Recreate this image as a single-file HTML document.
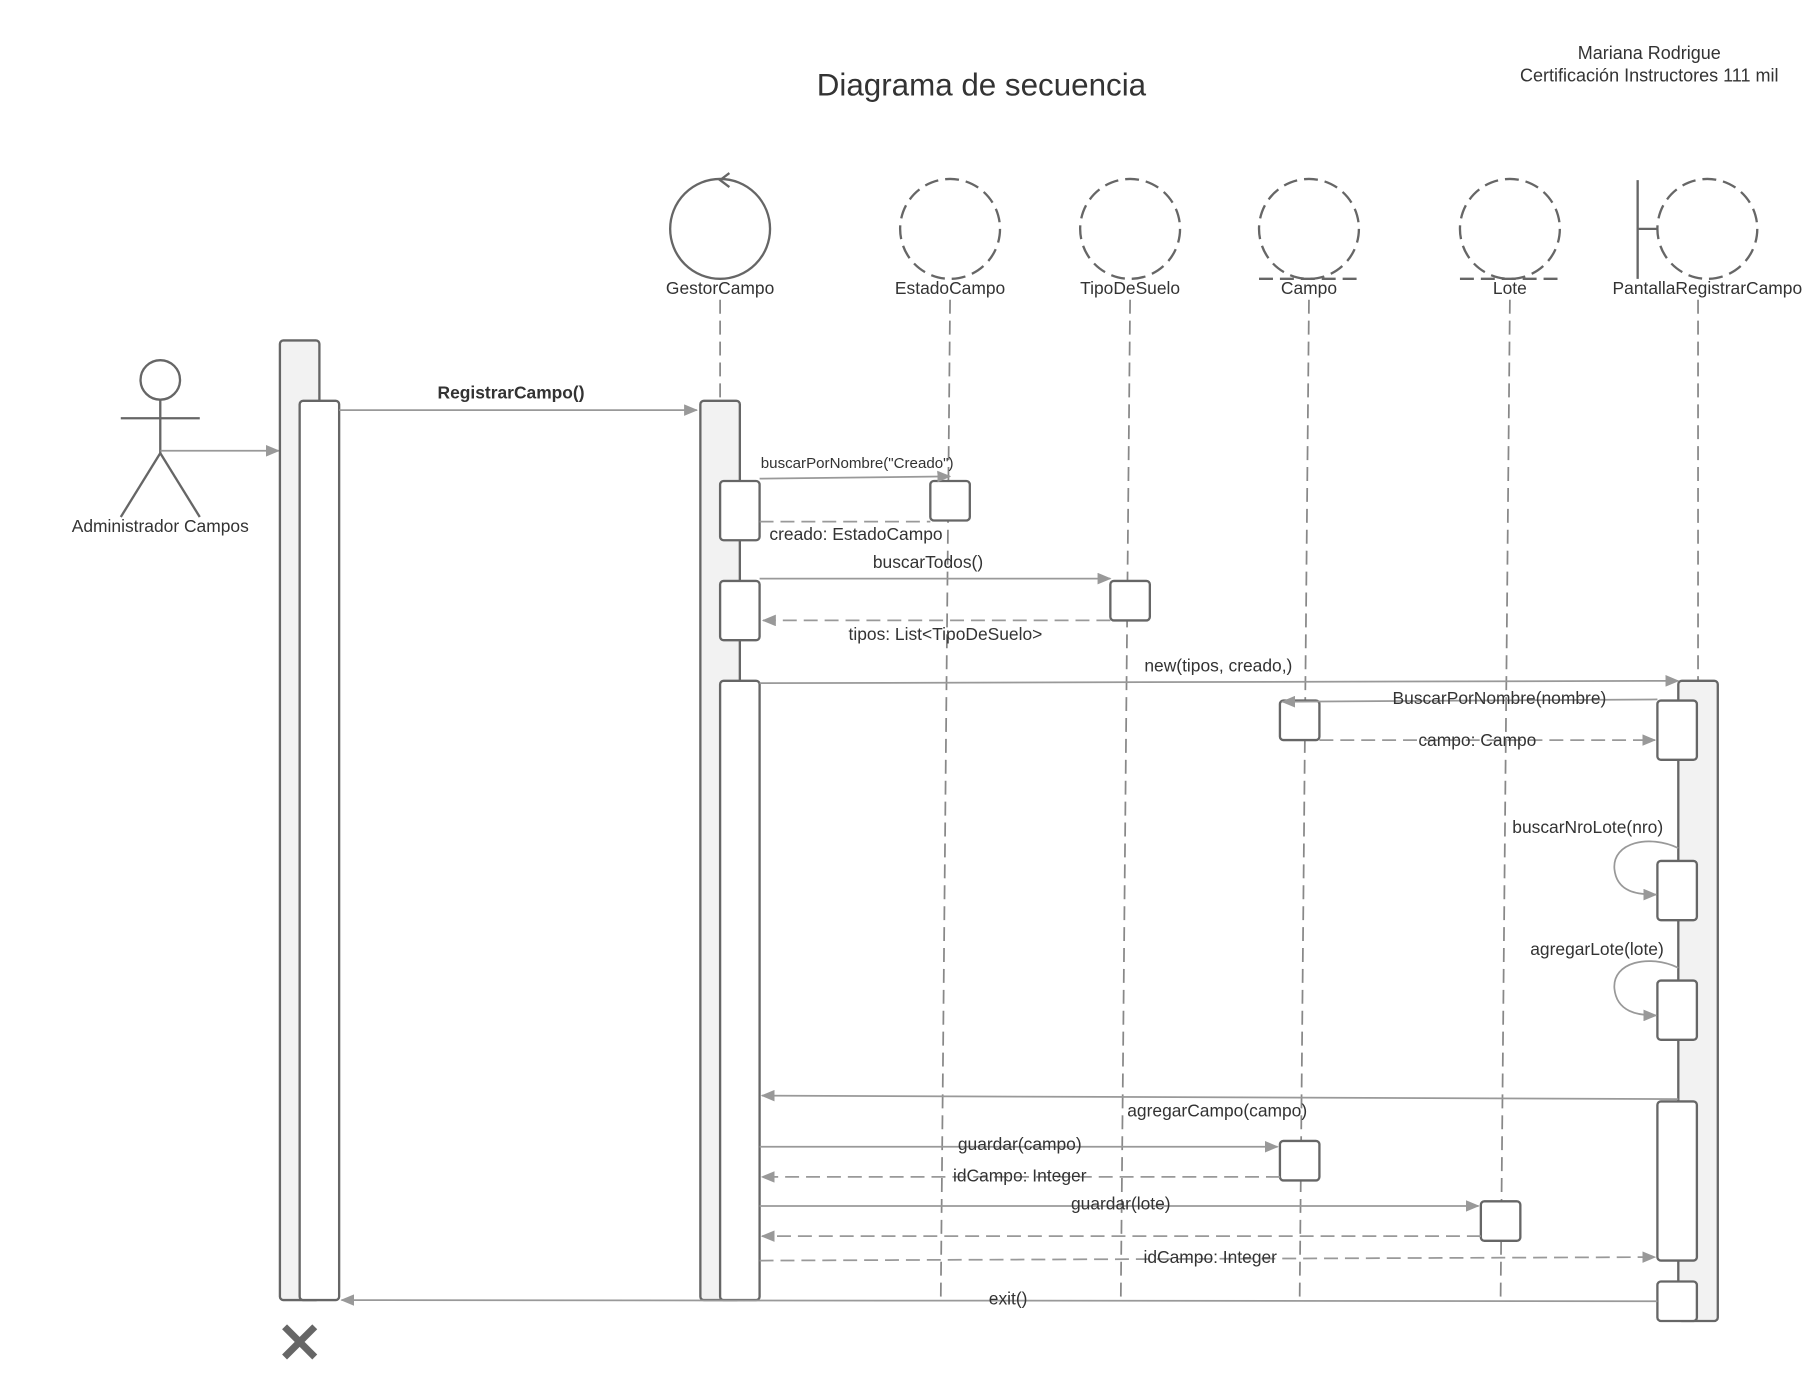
<!DOCTYPE html>
<html><head><meta charset="utf-8"><style>
html,body{margin:0;padding:0;background:#fff;}
svg{display:block;}
text{font-family:"Liberation Sans",sans-serif;fill:#333;}
</style></head><body>
<svg width="1820" height="1400" viewBox="0 0 1567 1205" preserveAspectRatio="none" xmlns="http://www.w3.org/2000/svg">
<defs>
<marker id="a" markerWidth="12" markerHeight="10" refX="11" refY="5" orient="auto" markerUnits="userSpaceOnUse">
<path d="M0,0 L12,5 L0,10 Z" fill="#999"/></marker>
</defs>
<rect width="1567" height="1205" fill="#fff"/>
<text x="845" y="82" font-size="27" text-anchor="middle" fill="#222">Diagrama de secuencia</text>
<text x="1420" y="51" font-size="15.5" text-anchor="middle">Mariana Rodrigue</text>
<text x="1420" y="70" font-size="15.5" text-anchor="middle">Certificación Instructores 111 mil</text>

<g stroke="#666" stroke-width="2" fill="none">
<circle cx="620" cy="197" r="43"/>
<path d="M628,149 L620,155 L628,161"/>
<g stroke-dasharray="12,6">
<circle cx="818" cy="197" r="43"/>
<circle cx="973" cy="197" r="43"/>
<circle cx="1127" cy="197" r="43"/>
<circle cx="1300" cy="197" r="43"/>
<circle cx="1470" cy="197" r="43"/>
<line x1="1084" y1="240" x2="1170" y2="240"/>
<line x1="1257" y1="240" x2="1343" y2="240"/>
</g>
<line x1="1410" y1="155" x2="1410" y2="240"/>
<line x1="1410" y1="197" x2="1427" y2="197"/>
</g>
<g font-size="15" text-anchor="middle">
<text x="620" y="253">GestorCampo</text>
<text x="818" y="253">EstadoCampo</text>
<text x="973" y="253">TipoDeSuelo</text>
<text x="1127" y="253">Campo</text>
<text x="1300" y="253">Lote</text>
<text x="1470" y="253">PantallaRegistrarCampo</text>
</g>

<g stroke="#888" stroke-width="1.5" stroke-dasharray="12,6" fill="none">
<line x1="620" y1="258" x2="620" y2="345"/>
<line x1="818" y1="258" x2="810" y2="1118"/>
<line x1="973" y1="258" x2="965" y2="1118"/>
<line x1="1127" y1="258" x2="1119" y2="1118"/>
<line x1="1300" y1="258" x2="1292" y2="1118"/>
<line x1="1462" y1="258" x2="1462" y2="586"/>
</g>

<g stroke="#666" stroke-width="2" fill="none">
<circle cx="138" cy="327" r="17"/>
<line x1="138" y1="344" x2="138" y2="390"/>
<line x1="104" y1="360" x2="172" y2="360"/>
<line x1="138" y1="390" x2="104" y2="445"/>
<line x1="138" y1="390" x2="172" y2="445"/>
</g>
<text x="138" y="458" font-size="15" text-anchor="middle">Administrador Campos</text>
<line x1="138" y1="388" x2="240" y2="388" stroke="#999" stroke-width="1.5" marker-end="url(#a)"/>

<g stroke="#666" stroke-width="2">
<rect x="241" y="293" width="34" height="826" rx="3" fill="#f2f2f2"/>
<rect x="258" y="345" width="34" height="774" rx="3" fill="#fff"/>
<rect x="603" y="345" width="34" height="774" rx="3" fill="#f2f2f2"/>
<rect x="620" y="414" width="34" height="51" rx="3" fill="#fff"/>
<rect x="620" y="500" width="34" height="51" rx="3" fill="#fff"/>
<rect x="620" y="586" width="34" height="533" rx="3" fill="#fff"/>
<rect x="801" y="414" width="34" height="34" rx="3" fill="#fff"/>
<rect x="956" y="500" width="34" height="34" rx="3" fill="#fff"/>
<rect x="1102" y="603" width="34" height="34" rx="3" fill="#fff"/>
<rect x="1102" y="982" width="34" height="34" rx="3" fill="#fff"/>
<rect x="1275" y="1034" width="34" height="34" rx="3" fill="#fff"/>
<rect x="1445" y="586" width="34" height="551" rx="3" fill="#f2f2f2"/>
<rect x="1427" y="603" width="34" height="51" rx="3" fill="#fff"/>
<rect x="1427" y="741" width="34" height="51" rx="3" fill="#fff"/>
<rect x="1427" y="844" width="34" height="51" rx="3" fill="#fff"/>
<rect x="1427" y="948" width="34" height="137" rx="3" fill="#fff"/>
<rect x="1427" y="1103" width="34" height="34" rx="3" fill="#fff"/>
</g>
<g stroke="#666" stroke-width="6">
<line x1="245" y1="1142" x2="271" y2="1168"/>
<line x1="271" y1="1142" x2="245" y2="1168"/>
</g>

<g stroke="#999" stroke-width="1.5" fill="none">
<line x1="292" y1="353" x2="600" y2="353" marker-end="url(#a)"/>
<line x1="654" y1="412" x2="818" y2="410" marker-end="url(#a)"/>
<line x1="654" y1="449" x2="801" y2="449" stroke-dasharray="12,6"/>
<line x1="654" y1="498" x2="956" y2="498" marker-end="url(#a)"/>
<line x1="956" y1="534" x2="657" y2="534" stroke-dasharray="12,6" marker-end="url(#a)"/>
<line x1="654" y1="588" x2="1445" y2="586" marker-end="url(#a)"/>
<line x1="1427" y1="602" x2="1104" y2="604" marker-end="url(#a)"/>
<line x1="1136" y1="637" x2="1425" y2="637" stroke-dasharray="12,6" marker-end="url(#a)"/>
<path d="M1445,730 C1420,718 1388,725 1390,748 C1392,768 1410,770 1426,770" marker-end="url(#a)"/>
<path d="M1445,833 C1420,821 1388,828 1390,851 C1392,871 1410,874 1426,874" marker-end="url(#a)"/>
<line x1="1445" y1="946" x2="656" y2="943" marker-end="url(#a)"/>
<line x1="654" y1="987" x2="1100" y2="987" marker-end="url(#a)"/>
<line x1="1102" y1="1013" x2="656" y2="1013" stroke-dasharray="12,6" marker-end="url(#a)"/>
<line x1="654" y1="1038" x2="1273" y2="1038" marker-end="url(#a)"/>
<line x1="1275" y1="1064" x2="656" y2="1064" stroke-dasharray="12,6" marker-end="url(#a)"/>
<line x1="654" y1="1085" x2="1425" y2="1082" stroke-dasharray="12,6" marker-end="url(#a)"/>
<line x1="1427" y1="1120" x2="294" y2="1119" marker-end="url(#a)"/>
</g>

<g font-size="15" text-anchor="middle">
<text x="440" y="343" font-weight="bold">RegistrarCampo()</text>
<text x="738" y="403" font-size="13">buscarPorNombre("Creado")</text>
<text x="737" y="465">creado: EstadoCampo</text>
<text x="799" y="489">buscarTodos()</text>
<text x="814" y="551">tipos: List&lt;TipoDeSuelo&gt;</text>
<text x="1049" y="578">new(tipos, creado,)</text>
<text x="1291" y="606">BuscarPorNombre(nombre)</text>
<text x="1272" y="642">campo: Campo</text>
<text x="1367" y="717">buscarNroLote(nro)</text>
<text x="1375" y="822">agregarLote(lote)</text>
<text x="1048" y="961">agregarCampo(campo)</text>
<text x="878" y="990">guardar(campo)</text>
<text x="878" y="1017">idCampo: Integer</text>
<text x="965" y="1041">guardar(lote)</text>
<text x="1042" y="1087">idCampo: Integer</text>
<text x="868" y="1123">exit()</text>
</g>
</svg>
</body></html>
